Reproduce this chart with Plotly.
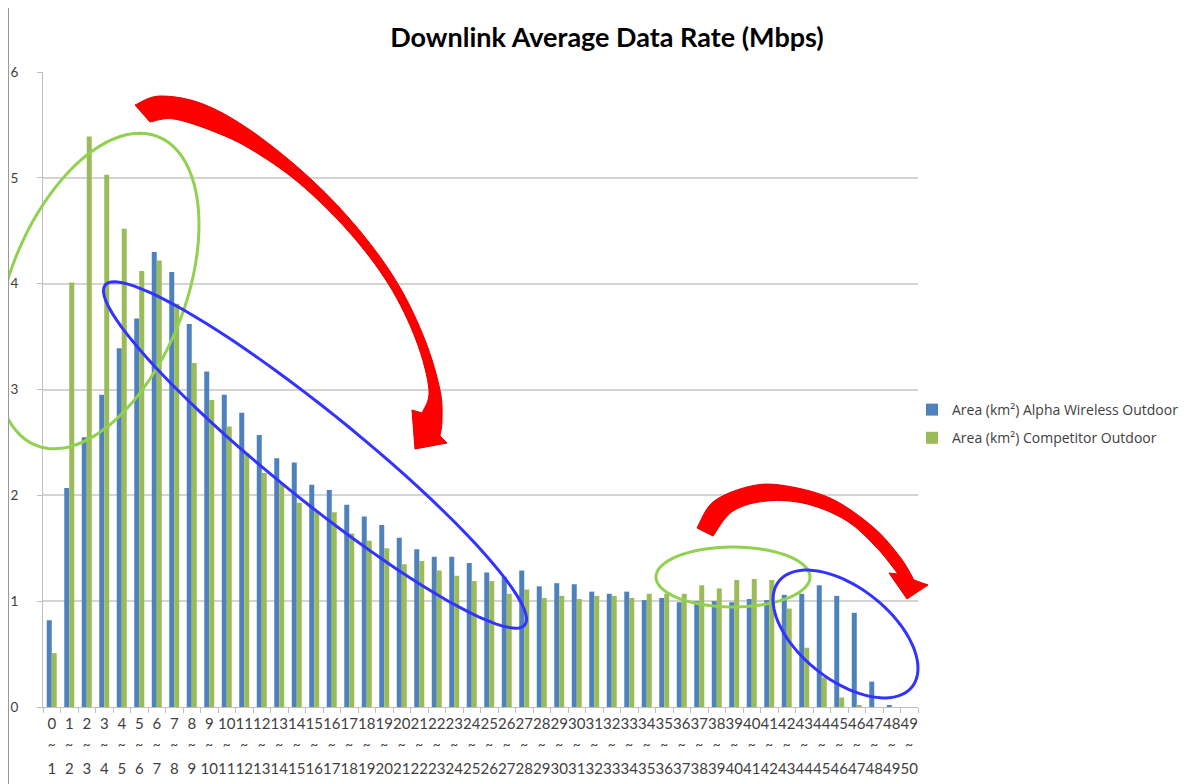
import math
import plotly.graph_objects as go

# ---------------- data ----------------
lower_bounds = [str(i) for i in range(50)]
upper_bounds = [str(i + 1) for i in range(50)]
tilde_labels = ["~"] * 50

alpha_outdoor = [0.82, 2.07, 2.55, 2.95, 3.39, 3.67, 4.30, 4.11, 3.62, 3.17,
                 2.95, 2.78, 2.57, 2.35, 2.31, 2.10, 2.05, 1.91, 1.80, 1.72,
                 1.60, 1.49, 1.42, 1.42, 1.36, 1.27, 1.23, 1.29, 1.14, 1.17,
                 1.16, 1.09, 1.07, 1.09, 1.01, 1.03, 0.99, 1.00, 1.00, 0.99,
                 1.02, 1.01, 1.06, 1.07, 1.15, 1.05, 0.89, 0.24, 0.01, 0.0]
competitor_outdoor = [0.51, 4.01, 5.39, 5.03, 4.52, 4.12, 4.22, 3.81, 3.25, 2.90,
                      2.65, 2.40, 2.21, 2.11, 1.93, 1.85, 1.84, 1.64, 1.57, 1.50,
                      1.35, 1.38, 1.29, 1.24, 1.19, 1.19, 1.07, 1.11, 1.03, 1.05,
                      1.02, 1.05, 1.05, 1.03, 1.07, 1.07, 1.07, 1.15, 1.12, 1.20,
                      1.21, 1.20, 0.93, 0.56, 0.28, 0.09, 0.01, 0.0, 0.0, 0.0]

series_names = ["Area (km²) Alpha Wireless Outdoor", "Area (km²) Competitor Outdoor"]
title_text = "Downlink Average Data Rate (Mbps)"

# ---------------- layout geometry ----------------
W, H = 1202, 784
OFF = 8                      # default page margin of the html body
PL, PR, PT, PB = 43, 918, 72, 707   # plot area in page pixels


def X(px):
    return (px - PL) / (PR - PL)


def Y(py):
    return (PB - py) / (PB - PT)


def ellipse_path(cx, cy, a, b, theta_deg, n=90):
    th = math.radians(theta_deg)
    pts = []
    for i in range(n):
        t = 2 * math.pi * i / n
        ex = a * math.cos(t)
        ey = b * math.sin(t)
        px = cx + ex * math.cos(th) - ey * math.sin(th)
        py = cy - (ex * math.sin(th) + ey * math.cos(th))
        pts.append((X(px), Y(py)))
    return "M " + " L ".join(f"{x:.5f},{y:.5f}" for x, y in pts) + " Z"


def smooth_segments(pts):
    segs = []
    for i in range(len(pts) - 1):
        p0 = pts[i - 1] if i > 0 else pts[i]
        p1 = pts[i]
        p2 = pts[i + 1]
        p3 = pts[i + 2] if i + 2 < len(pts) else pts[i + 1]
        c1 = (p1[0] + (p2[0] - p0[0]) / 6, p1[1] + (p2[1] - p0[1]) / 6)
        c2 = (p2[0] - (p3[0] - p1[0]) / 6, p2[1] - (p3[1] - p1[1]) / 6)
        segs.append("C {:.5f},{:.5f} {:.5f},{:.5f} {:.5f},{:.5f}".format(
            X(c1[0]), Y(c1[1]), X(c2[0]), Y(c2[1]), X(p2[0]), Y(p2[1])))
    return segs


def arrow_path(outer, head, inner):
    parts = ["M {:.5f},{:.5f}".format(X(outer[0][0]), Y(outer[0][1]))]
    parts += smooth_segments(outer)
    for p in head:
        parts.append("L {:.5f},{:.5f}".format(X(p[0]), Y(p[1])))
    parts.append("L {:.5f},{:.5f}".format(X(inner[0][0]), Y(inner[0][1])))
    parts += smooth_segments(inner)
    parts.append("Z")
    return " ".join(parts)


arrow1 = arrow_path(
    outer=[(135, 105), (160, 96), (203, 104), (253, 132), (312, 180), (360, 231),
           (398, 284), (425, 340), (440, 390), (442, 420), (440, 436)],
    head=[(447, 443), (415, 449), (412, 410)],
    inner=[(422, 413), (429, 390), (416, 340), (389, 285), (349, 232), (299, 183),
           (252, 150), (215, 132), (174, 119), (150, 122)],
)
arrow2 = arrow_path(
    outer=[(697, 528), (713, 502), (747, 487), (780, 485), (830, 498), (873, 527),
           (900, 557), (914, 580)],
    head=[(928, 585), (907, 599), (889, 573)],
    inner=[(898, 574), (877, 548), (847, 521), (807, 504), (767, 501), (733, 511),
           (713, 536)],
)

shapes = [
    dict(type="path", xref="paper", yref="paper", path=ellipse_path(97, 291, 166, 88, 68.5),
         line=dict(color="#92D050", width=3)),
    dict(type="path", xref="paper", yref="paper", path=ellipse_path(315, 455, 270, 43, -39),
         line=dict(color="#3333FF", width=3)),
    dict(type="path", xref="paper", yref="paper", path=ellipse_path(733, 577, 77, 30, 0),
         line=dict(color="#92D050", width=3)),
    dict(type="path", xref="paper", yref="paper", path=ellipse_path(845.5, 634, 85, 46, -38.4),
         line=dict(color="#3333FF", width=3)),
    dict(type="path", xref="paper", yref="paper", path=arrow1,
         fillcolor="#FF0000", line=dict(color="#E00000", width=1)),
    dict(type="path", xref="paper", yref="paper", path=arrow2,
         fillcolor="#FF0000", line=dict(color="#E00000", width=1)),
    # outer frame (left edge)
    dict(type="line", xref="paper", yref="paper", x0=X(8.5), x1=X(8.5), y0=Y(8), y1=Y(784),
         line=dict(color="#9A9A9A", width=1)),
]

FONT = "Lato, 'Liberation Sans', sans-serif"
cats = list(range(len(alpha_outdoor)))

fig = go.Figure()
fig.add_trace(go.Bar(x=cats, y=alpha_outdoor, name=series_names[0], marker_color="#4F81BD",
                     marker_line_width=0, legendgroup="a"))
fig.add_trace(go.Bar(x=cats, y=competitor_outdoor, name=series_names[1], marker_color="#9BBB59",
                     marker_line_width=0, legendgroup="b"))
fig.add_trace(go.Scatter(x=[0], y=[0], xaxis="x2", mode="markers", marker=dict(opacity=0),
                         showlegend=False, hoverinfo="skip"))
fig.add_trace(go.Scatter(x=[0], y=[0], xaxis="x3", mode="markers", marker=dict(opacity=0),
                         showlegend=False, hoverinfo="skip"))

tickfont = dict(family=FONT, size=13.5, color="#404040")
xtickfont = dict(family=FONT, size=15, color="#404040")
xr = [-0.5, len(cats) - 0.5]

fig.update_layout(
    width=W, height=H,
    margin=dict(l=PL - OFF, r=W - (PR - OFF), t=PT - OFF, b=H - (PB - OFF), autoexpand=False),
    paper_bgcolor="white", plot_bgcolor="white",
    barmode="group", bargap=0.43, bargroupgap=0,
    title=dict(text="<b>" + title_text + "</b>", xref="container", yref="container",
               x=(607 - OFF) / W, xanchor="center",
               y=1 - (38 - OFF) / H, yanchor="middle",
               font=dict(family=FONT, size=27, color="#000000")),
    xaxis=dict(range=xr, tickvals=cats, ticktext=lower_bounds, ticks="", automargin=False,
               tickangle=0, showgrid=False, showline=True, linecolor="#BFBFBF", linewidth=1,
               tickfont=xtickfont, ticklabelstandoff=3, zeroline=False,
               minor=dict(tick0=-0.5, dtick=1, ticks="outside", ticklen=5,
                          tickcolor="#BFBFBF", showgrid=False)),
    xaxis2=dict(range=xr, overlaying="x", anchor="y", side="bottom", tickvals=cats,
                ticktext=tilde_labels, ticks="", showgrid=False, showline=False, tickangle=0,
                automargin=False, zeroline=False, tickfont=tickfont, ticklabelstandoff=27),
    xaxis3=dict(range=xr, overlaying="x", anchor="y", side="bottom", tickvals=cats,
                ticktext=upper_bounds, ticks="", showgrid=False, showline=False, tickangle=0,
                automargin=False, zeroline=False, tickfont=xtickfont, ticklabelstandoff=51),
    yaxis=dict(range=[0, 6], dtick=1, showgrid=True, gridcolor="#D4D4D4", gridwidth=1.5,
               showline=True, linecolor="#BFBFBF", linewidth=1, ticks="outside",
               ticklen=5, tickcolor="#BFBFBF", tickfont=tickfont, automargin=False,
               ticklabelstandoff=16, zeroline=False),
    legend=dict(x=X(912), y=Y(394), xanchor="left", yanchor="top",
                font=dict(family="'Open Sans', sans-serif", size=14, color="#404040"),
                traceorder="grouped", tracegroupgap=7, bgcolor="rgba(0,0,0,0)"),
    shapes=shapes,
    showlegend=True,
)

fig.write_html("out.html")
